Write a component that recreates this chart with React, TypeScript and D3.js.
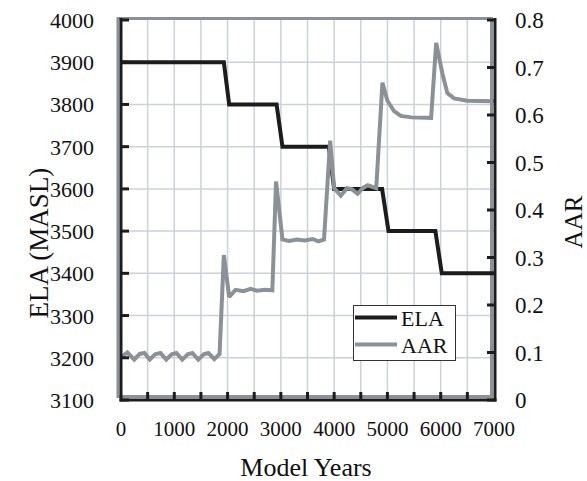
import React, { useRef, useEffect } from 'react';
import * as d3 from 'd3';

// ELA step series (model year, metres above sea level)
const elaYears = [0, 1930, 2030, 2920, 3030, 3900, 4000, 4900, 5020, 5900, 6020, 7000];
const elaValues = [3900, 3900, 3800, 3800, 3700, 3700, 3600, 3600, 3500, 3500, 3400, 3400];

// AAR series (model year, ratio)
const aarYears = [
  0, 120, 250, 350, 440, 540, 640, 740, 850, 950, 1040, 1150, 1250, 1340, 1450, 1550, 1640, 1750, 1850,
  1930, 2030, 2150, 2300, 2430, 2550, 2700, 2840,
  2910, 3030, 3150, 3300, 3450, 3600, 3700, 3810,
  3925, 4000, 4125, 4240, 4330, 4440, 4535, 4630, 4790,
  4906, 5000, 5125, 5250, 5450, 5820,
  5915, 6030, 6125, 6250, 6500, 7000
];
const aarValues = [
  0.090, 0.100, 0.085, 0.097, 0.099, 0.085, 0.096, 0.099, 0.085, 0.096, 0.099, 0.085, 0.096, 0.099, 0.085, 0.096, 0.099, 0.086, 0.097,
  0.305, 0.217, 0.232, 0.229, 0.234, 0.230, 0.232, 0.231,
  0.460, 0.338, 0.335, 0.338, 0.336, 0.339, 0.334, 0.338,
  0.546, 0.446, 0.430, 0.446, 0.444, 0.434, 0.446, 0.452, 0.446,
  0.668, 0.630, 0.608, 0.598, 0.595, 0.594,
  0.752, 0.688, 0.646, 0.635, 0.630, 0.629
];

const xTicks = [0, 1000, 2000, 3000, 4000, 5000, 6000, 7000];
const elaTicks = [3100, 3200, 3300, 3400, 3500, 3600, 3700, 3800, 3900, 4000];
const aarTicks = [0, 0.1, 0.2, 0.3, 0.4, 0.5, 0.6, 0.7, 0.8];

function App() {
  const svgRef = useRef(null);

  useEffect(() => {
    const svg = d3.select(svgRef.current);
    svg.selectAll("*").remove();

    const width = 587;
    const height = 481;
    const font = "Liberation Serif, DejaVu Serif, serif";
    const black = "#1c1c1c";
    const gray = "#8b9196";
    const gridColor = "#cdd1d8";

    const x = d3.scaleLinear().domain([0, 7000]).range([121, 494]);
    const yEla = d3.scaleLinear().domain([3100, 4000]).range([400, 20]);
    const yAar = d3.scaleLinear().domain([0, 0.8]).range([400, 20]);

    svg.attr("width", width).attr("height", height);
    svg.append("rect").attr("width", width).attr("height", height).attr("fill", "#fff");

    // grid
    const grid = svg.append("g").attr("stroke", gridColor).attr("stroke-width", 1.5);
    d3.range(500, 7000, 500).forEach(v => {
      grid.append("line").attr("x1", x(v)).attr("x2", x(v)).attr("y1", 20).attr("y2", 398);
    });
    d3.range(3200, 4000, 100).forEach(v => {
      grid.append("line").attr("x1", 121).attr("x2", 494).attr("y1", yEla(v)).attr("y2", yEla(v));
    });

    // gray frame
    svg.append("rect")
      .attr("x", 118).attr("y", 18.5)
      .attr("width", 491.5 - 118).attr("height", 396.5 - 18.5)
      .attr("fill", "none").attr("stroke", gray).attr("stroke-width", 3);

    // lines
    const elaData = elaYears.map((d, i) => [d, elaValues[i]]);
    const aarData = aarYears.map((d, i) => [d, aarValues[i]]);

    svg.append("path")
      .datum(elaData)
      .attr("fill", "none").attr("stroke", black).attr("stroke-width", 4)
      .attr("d", d3.line().x(d => x(d[0])).y(d => yEla(d[1])));

    svg.append("path")
      .datum(aarData)
      .attr("fill", "none").attr("stroke", gray).attr("stroke-width", 4)
      .attr("stroke-linejoin", "miter").attr("stroke-miterlimit", 2)
      .attr("d", d3.line().x(d => x(d[0])).y(d => yAar(d[1])));

    // black axes
    const ax = svg.append("g").attr("stroke", black).attr("stroke-width", 3);
    ax.append("line").attr("x1", 121).attr("x2", 121).attr("y1", 18).attr("y2", 401.5);
    ax.append("line").attr("x1", 119.5).attr("x2", 496.5).attr("y1", 400).attr("y2", 400);
    ax.append("line").attr("x1", 495).attr("x2", 495).attr("y1", 18).attr("y2", 401.5);

    elaTicks.forEach(v => {
      ax.append("line").attr("x1", 121).attr("x2", 129).attr("y1", yEla(v)).attr("y2", yEla(v));
    });
    aarTicks.forEach(v => {
      ax.append("line").attr("x1", 487).attr("x2", 495).attr("y1", yAar(v)).attr("y2", yAar(v));
    });
    d3.range(500, 7000, 500).forEach(v => {
      ax.append("line").attr("x1", x(v)).attr("x2", x(v)).attr("y1", 392).attr("y2", 400);
    });

    // tick labels
    const labels = svg.append("g").attr("font-family", font).attr("fill", "#111");
    elaTicks.forEach(v => {
      labels.append("text").attr("x", 94).attr("y", yEla(v) + 8)
        .attr("text-anchor", "end").attr("font-size", 22).text(v);
    });
    aarTicks.forEach(v => {
      labels.append("text").attr("x", 515).attr("y", yAar(v) + 8)
        .attr("font-size", 23).text(v === 0 ? "0" : d3.format(".1f")(v));
    });
    xTicks.forEach(v => {
      labels.append("text").attr("x", x(v)).attr("y", 436)
        .attr("text-anchor", "middle").attr("font-size", 21).text(v);
    });

    // axis titles
    labels.append("text").attr("x", 306).attr("y", 476)
      .attr("text-anchor", "middle").attr("font-size", 26).text("Model Years");
    labels.append("text")
      .attr("transform", "translate(48, 243) rotate(-90)")
      .attr("text-anchor", "middle").attr("font-size", 27).text("ELA (MASL)");
    labels.append("text")
      .attr("transform", "translate(582, 222) rotate(-90)")
      .attr("text-anchor", "middle").attr("font-size", 25).text("AAR");

    // legend
    const lg = svg.append("g").attr("font-family", font);
    lg.append("rect").attr("x", 353.5).attr("y", 305.5).attr("width", 102).attr("height", 55)
      .attr("fill", "#fff").attr("stroke", "#333").attr("stroke-width", 1);
    lg.append("line").attr("x1", 355).attr("x2", 397).attr("y1", 317.5).attr("y2", 317.5)
      .attr("stroke", black).attr("stroke-width", 4);
    lg.append("line").attr("x1", 355).attr("x2", 397).attr("y1", 344.5).attr("y2", 344.5)
      .attr("stroke", gray).attr("stroke-width", 4);
    lg.append("text").attr("x", 401).attr("y", 326)
      .attr("font-size", 22).attr("fill", "#111").text("ELA");
    lg.append("text").attr("x", 401).attr("y", 353)
      .attr("font-size", 22).attr("fill", "#111").text("AAR");
  }, []);

  return <svg ref={svgRef} style={{ position: "absolute", left: 0, top: 0 }}></svg>;
}

export default App;
